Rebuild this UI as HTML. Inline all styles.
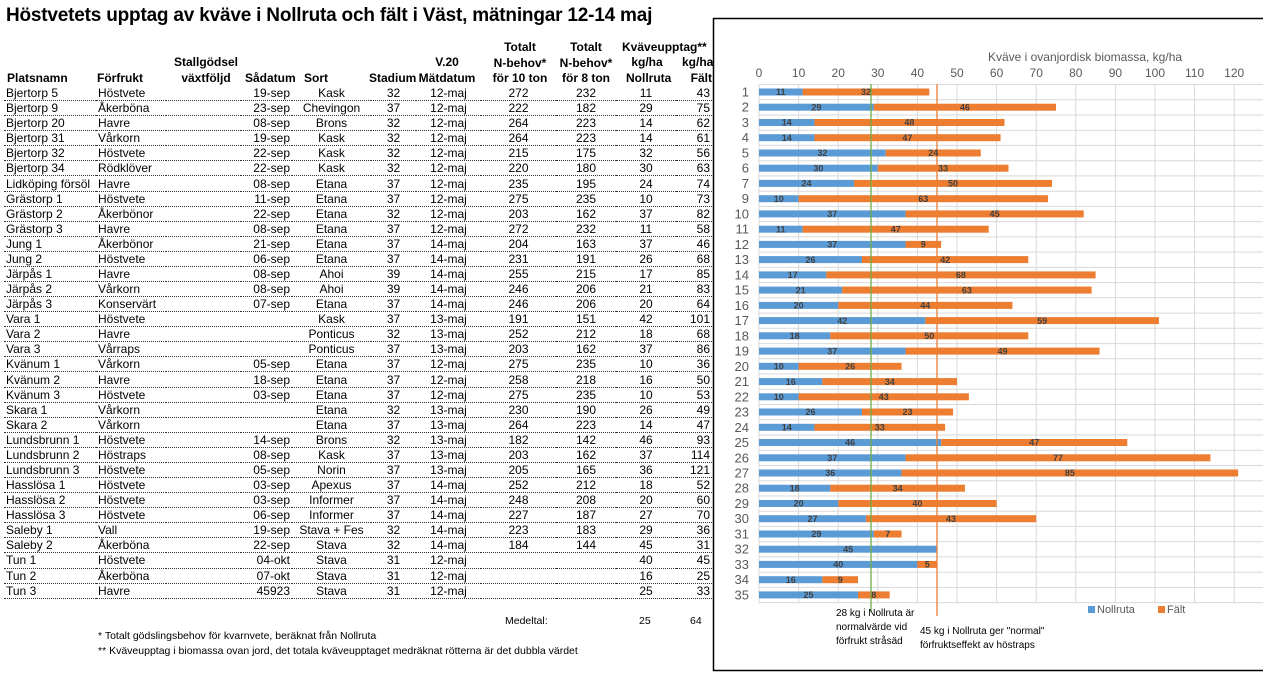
<!DOCTYPE html>
<html><head><meta charset="utf-8"><style>
body{margin:0;width:1263px;height:682px;background:#fff;position:relative;overflow:hidden;font-family:"Liberation Sans",Arial,sans-serif;}
h1{position:absolute;left:6px;top:5px;margin:0;font-size:19px;font-weight:bold;letter-spacing:-0.2px;}
.hd{position:absolute;font-size:12px;font-weight:bold;line-height:15.5px;white-space:nowrap;}
table{position:absolute;left:4px;top:85.5px;border-collapse:collapse;table-layout:fixed;font-size:12px;}
td{height:15.09px;padding:0 2px;line-height:14px;border-bottom:1px dotted #333;white-space:nowrap;overflow:hidden;box-sizing:border-box;}
td.c{text-align:center}td.r{text-align:right}
.fn{position:absolute;font-size:10.5px;white-space:nowrap;}
</style></head><body>
<h1>Höstvetets upptag av kväve i Nollruta och fält i Väst, mätningar 12-14 maj</h1>
<div class="hd" style="left:7px;top:71px">Platsnamn</div>
<div class="hd" style="left:97px;top:71px">Förfrukt</div>
<div class="hd" style="left:170px;top:55px;text-align:center;width:72px">Stallgödsel<br>växtföljd</div>
<div class="hd" style="left:245px;top:71px">Sådatum</div>
<div class="hd" style="left:304px;top:71px">Sort</div>
<div class="hd" style="left:369px;top:71px">Stadium</div>
<div class="hd" style="left:414px;top:55px;width:66px;text-align:center">V.20<br>Mätdatum</div>
<div class="hd" style="left:488px;top:40px;width:64px;text-align:center">Totalt<br>N-behov*<br>för 10 ton</div>
<div class="hd" style="left:555px;top:40px;width:62px;text-align:center">Totalt<br>N-behov*<br>för 8 ton</div>
<div class="hd" style="left:622px;top:40px">Kväveupptag**</div>
<div class="hd" style="left:626px;top:55px;text-align:center;width:42px">kg/ha<br>Nollruta</div>
<div class="hd" style="left:682px;top:55px;text-align:right;width:30px">kg/ha<br>Fält</div>
<table>
<colgroup><col style="width:92px"><col style="width:70px"><col style="width:75px"><col style="width:51px"><col style="width:79px"><col style="width:45px"><col style="width:65px"><col style="width:75px"><col style="width:60px"><col style="width:60px"><col style="width:36px"></colgroup>
<tr><td>Bjertorp 5</td><td>Höstvete</td><td></td><td class="r">19-sep</td><td class="c">Kask</td><td class="c">32</td><td class="c">12-maj</td><td class="c">272</td><td class="c">232</td><td class="c">11</td><td class="r">43</td></tr>
<tr><td>Bjertorp 9</td><td>Åkerböna</td><td></td><td class="r">23-sep</td><td class="c">Chevingon</td><td class="c">37</td><td class="c">12-maj</td><td class="c">222</td><td class="c">182</td><td class="c">29</td><td class="r">75</td></tr>
<tr><td>Bjertorp 20</td><td>Havre</td><td></td><td class="r">08-sep</td><td class="c">Brons</td><td class="c">32</td><td class="c">12-maj</td><td class="c">264</td><td class="c">223</td><td class="c">14</td><td class="r">62</td></tr>
<tr><td>Bjertorp 31</td><td>Vårkorn</td><td></td><td class="r">19-sep</td><td class="c">Kask</td><td class="c">32</td><td class="c">12-maj</td><td class="c">264</td><td class="c">223</td><td class="c">14</td><td class="r">61</td></tr>
<tr><td>Bjertorp 32</td><td>Höstvete</td><td></td><td class="r">22-sep</td><td class="c">Kask</td><td class="c">32</td><td class="c">12-maj</td><td class="c">215</td><td class="c">175</td><td class="c">32</td><td class="r">56</td></tr>
<tr><td>Bjertorp 34</td><td>Rödklöver</td><td></td><td class="r">22-sep</td><td class="c">Kask</td><td class="c">32</td><td class="c">12-maj</td><td class="c">220</td><td class="c">180</td><td class="c">30</td><td class="r">63</td></tr>
<tr><td>Lidköping försöl</td><td>Havre</td><td></td><td class="r">08-sep</td><td class="c">Etana</td><td class="c">37</td><td class="c">12-maj</td><td class="c">235</td><td class="c">195</td><td class="c">24</td><td class="r">74</td></tr>
<tr><td>Grästorp 1</td><td>Höstvete</td><td></td><td class="r">11-sep</td><td class="c">Etana</td><td class="c">37</td><td class="c">12-maj</td><td class="c">275</td><td class="c">235</td><td class="c">10</td><td class="r">73</td></tr>
<tr><td>Grästorp 2</td><td>Åkerbönor</td><td></td><td class="r">22-sep</td><td class="c">Etana</td><td class="c">32</td><td class="c">12-maj</td><td class="c">203</td><td class="c">162</td><td class="c">37</td><td class="r">82</td></tr>
<tr><td>Grästorp 3</td><td>Havre</td><td></td><td class="r">08-sep</td><td class="c">Etana</td><td class="c">37</td><td class="c">12-maj</td><td class="c">272</td><td class="c">232</td><td class="c">11</td><td class="r">58</td></tr>
<tr><td>Jung 1</td><td>Åkerbönor</td><td></td><td class="r">21-sep</td><td class="c">Etana</td><td class="c">37</td><td class="c">14-maj</td><td class="c">204</td><td class="c">163</td><td class="c">37</td><td class="r">46</td></tr>
<tr><td>Jung 2</td><td>Höstvete</td><td></td><td class="r">06-sep</td><td class="c">Etana</td><td class="c">37</td><td class="c">14-maj</td><td class="c">231</td><td class="c">191</td><td class="c">26</td><td class="r">68</td></tr>
<tr><td>Järpås 1</td><td>Havre</td><td></td><td class="r">08-sep</td><td class="c">Ahoi</td><td class="c">39</td><td class="c">14-maj</td><td class="c">255</td><td class="c">215</td><td class="c">17</td><td class="r">85</td></tr>
<tr><td>Järpås 2</td><td>Vårkorn</td><td></td><td class="r">08-sep</td><td class="c">Ahoi</td><td class="c">39</td><td class="c">14-maj</td><td class="c">246</td><td class="c">206</td><td class="c">21</td><td class="r">83</td></tr>
<tr><td>Järpås 3</td><td>Konservärt</td><td></td><td class="r">07-sep</td><td class="c">Etana</td><td class="c">37</td><td class="c">14-maj</td><td class="c">246</td><td class="c">206</td><td class="c">20</td><td class="r">64</td></tr>
<tr><td>Vara 1</td><td>Höstvete</td><td></td><td class="r"></td><td class="c">Kask</td><td class="c">37</td><td class="c">13-maj</td><td class="c">191</td><td class="c">151</td><td class="c">42</td><td class="r">101</td></tr>
<tr><td>Vara 2</td><td>Havre</td><td></td><td class="r"></td><td class="c">Ponticus</td><td class="c">32</td><td class="c">13-maj</td><td class="c">252</td><td class="c">212</td><td class="c">18</td><td class="r">68</td></tr>
<tr><td>Vara 3</td><td>Vårraps</td><td></td><td class="r"></td><td class="c">Ponticus</td><td class="c">37</td><td class="c">13-maj</td><td class="c">203</td><td class="c">162</td><td class="c">37</td><td class="r">86</td></tr>
<tr><td>Kvänum 1</td><td>Vårkorn</td><td></td><td class="r">05-sep</td><td class="c">Etana</td><td class="c">37</td><td class="c">12-maj</td><td class="c">275</td><td class="c">235</td><td class="c">10</td><td class="r">36</td></tr>
<tr><td>Kvänum 2</td><td>Havre</td><td></td><td class="r">18-sep</td><td class="c">Etana</td><td class="c">37</td><td class="c">12-maj</td><td class="c">258</td><td class="c">218</td><td class="c">16</td><td class="r">50</td></tr>
<tr><td>Kvänum 3</td><td>Höstvete</td><td></td><td class="r">03-sep</td><td class="c">Etana</td><td class="c">37</td><td class="c">12-maj</td><td class="c">275</td><td class="c">235</td><td class="c">10</td><td class="r">53</td></tr>
<tr><td>Skara 1</td><td>Vårkorn</td><td></td><td class="r"></td><td class="c">Etana</td><td class="c">32</td><td class="c">13-maj</td><td class="c">230</td><td class="c">190</td><td class="c">26</td><td class="r">49</td></tr>
<tr><td>Skara 2</td><td>Vårkorn</td><td></td><td class="r"></td><td class="c">Etana</td><td class="c">37</td><td class="c">13-maj</td><td class="c">264</td><td class="c">223</td><td class="c">14</td><td class="r">47</td></tr>
<tr><td>Lundsbrunn 1</td><td>Höstvete</td><td></td><td class="r">14-sep</td><td class="c">Brons</td><td class="c">32</td><td class="c">13-maj</td><td class="c">182</td><td class="c">142</td><td class="c">46</td><td class="r">93</td></tr>
<tr><td>Lundsbrunn 2</td><td>Höstraps</td><td></td><td class="r">08-sep</td><td class="c">Kask</td><td class="c">37</td><td class="c">13-maj</td><td class="c">203</td><td class="c">162</td><td class="c">37</td><td class="r">114</td></tr>
<tr><td>Lundsbrunn 3</td><td>Höstvete</td><td></td><td class="r">05-sep</td><td class="c">Norin</td><td class="c">37</td><td class="c">13-maj</td><td class="c">205</td><td class="c">165</td><td class="c">36</td><td class="r">121</td></tr>
<tr><td>Hasslösa 1</td><td>Höstvete</td><td></td><td class="r">03-sep</td><td class="c">Apexus</td><td class="c">37</td><td class="c">14-maj</td><td class="c">252</td><td class="c">212</td><td class="c">18</td><td class="r">52</td></tr>
<tr><td>Hasslösa 2</td><td>Höstvete</td><td></td><td class="r">03-sep</td><td class="c">Informer</td><td class="c">37</td><td class="c">14-maj</td><td class="c">248</td><td class="c">208</td><td class="c">20</td><td class="r">60</td></tr>
<tr><td>Hasslösa 3</td><td>Höstvete</td><td></td><td class="r">06-sep</td><td class="c">Informer</td><td class="c">37</td><td class="c">14-maj</td><td class="c">227</td><td class="c">187</td><td class="c">27</td><td class="r">70</td></tr>
<tr><td>Saleby 1</td><td>Vall</td><td></td><td class="r">19-sep</td><td class="c">Stava + Fes</td><td class="c">32</td><td class="c">14-maj</td><td class="c">223</td><td class="c">183</td><td class="c">29</td><td class="r">36</td></tr>
<tr><td>Saleby 2</td><td>Åkerböna</td><td></td><td class="r">22-sep</td><td class="c">Stava</td><td class="c">32</td><td class="c">14-maj</td><td class="c">184</td><td class="c">144</td><td class="c">45</td><td class="r">31</td></tr>
<tr><td>Tun 1</td><td>Höstvete</td><td></td><td class="r">04-okt</td><td class="c">Stava</td><td class="c">31</td><td class="c">12-maj</td><td class="c"></td><td class="c"></td><td class="c">40</td><td class="r">45</td></tr>
<tr><td>Tun 2</td><td>Åkerböna</td><td></td><td class="r">07-okt</td><td class="c">Stava</td><td class="c">31</td><td class="c">12-maj</td><td class="c"></td><td class="c"></td><td class="c">16</td><td class="r">25</td></tr>
<tr><td>Tun 3</td><td>Havre</td><td></td><td class="r">45923</td><td class="c">Stava</td><td class="c">31</td><td class="c">12-maj</td><td class="c"></td><td class="c"></td><td class="c">25</td><td class="r">33</td></tr>
</table>
<div class="fn" style="left:505px;top:615px">Medeltal:</div>
<div class="fn" style="left:639px;top:615px">25</div>
<div class="fn" style="left:690px;top:615px">64</div>
<div class="fn" style="left:98px;top:630px">* Totalt gödslingsbehov för kvarnvete, beräknat från Nollruta</div>
<div class="fn" style="left:98px;top:645px">** Kväveupptag i biomassa ovan jord, det totala kväveupptaget medräknat rötterna är det dubbla värdet</div>

<svg style="position:absolute;left:0;top:0" width="1263" height="682" font-family="Liberation Sans, Arial, sans-serif">
<rect x="713.5" y="18.5" width="560" height="652" fill="#fff" stroke="#000" stroke-width="1.5"/>
<g stroke="#d9d9d9" stroke-width="1">
<line x1="759" y1="84.5" x2="1263" y2="84.5"/><line x1="759" y1="99.7" x2="1263" y2="99.7"/><line x1="759" y1="115" x2="1263" y2="115"/><line x1="759" y1="130.2" x2="1263" y2="130.2"/><line x1="759" y1="145.4" x2="1263" y2="145.4"/><line x1="759" y1="160.7" x2="1263" y2="160.7"/><line x1="759" y1="175.9" x2="1263" y2="175.9"/><line x1="759" y1="191.2" x2="1263" y2="191.2"/><line x1="759" y1="206.4" x2="1263" y2="206.4"/><line x1="759" y1="221.6" x2="1263" y2="221.6"/><line x1="759" y1="236.9" x2="1263" y2="236.9"/><line x1="759" y1="252.1" x2="1263" y2="252.1"/><line x1="759" y1="267.4" x2="1263" y2="267.4"/><line x1="759" y1="282.6" x2="1263" y2="282.6"/><line x1="759" y1="297.8" x2="1263" y2="297.8"/><line x1="759" y1="313.1" x2="1263" y2="313.1"/><line x1="759" y1="328.3" x2="1263" y2="328.3"/><line x1="759" y1="343.6" x2="1263" y2="343.6"/><line x1="759" y1="358.8" x2="1263" y2="358.8"/><line x1="759" y1="374" x2="1263" y2="374"/><line x1="759" y1="389.3" x2="1263" y2="389.3"/><line x1="759" y1="404.5" x2="1263" y2="404.5"/><line x1="759" y1="419.8" x2="1263" y2="419.8"/><line x1="759" y1="435" x2="1263" y2="435"/><line x1="759" y1="450.2" x2="1263" y2="450.2"/><line x1="759" y1="465.5" x2="1263" y2="465.5"/><line x1="759" y1="480.7" x2="1263" y2="480.7"/><line x1="759" y1="496" x2="1263" y2="496"/><line x1="759" y1="511.2" x2="1263" y2="511.2"/><line x1="759" y1="526.4" x2="1263" y2="526.4"/><line x1="759" y1="541.7" x2="1263" y2="541.7"/><line x1="759" y1="556.9" x2="1263" y2="556.9"/><line x1="759" y1="572.2" x2="1263" y2="572.2"/><line x1="759" y1="587.4" x2="1263" y2="587.4"/><line x1="759" y1="602.6" x2="1263" y2="602.6"/>
<line x1="759" y1="84" x2="759" y2="603"/><line x1="798.6" y1="84" x2="798.6" y2="603"/><line x1="838.2" y1="84" x2="838.2" y2="603"/><line x1="877.8" y1="84" x2="877.8" y2="603"/><line x1="917.4" y1="84" x2="917.4" y2="603"/><line x1="957" y1="84" x2="957" y2="603"/><line x1="996.6" y1="84" x2="996.6" y2="603"/><line x1="1036.2" y1="84" x2="1036.2" y2="603"/><line x1="1075.8" y1="84" x2="1075.8" y2="603"/><line x1="1115.4" y1="84" x2="1115.4" y2="603"/><line x1="1155" y1="84" x2="1155" y2="603"/><line x1="1194.6" y1="84" x2="1194.6" y2="603"/><line x1="1234.2" y1="84" x2="1234.2" y2="603"/>
</g>
<text x="1085" y="61" font-size="12" fill="#595959" text-anchor="middle">Kväve i ovanjordisk biomassa, kg/ha</text>
<g font-size="12" fill="#595959" text-anchor="middle">
<text x="759" y="77">0</text><text x="798.6" y="77">10</text><text x="838.2" y="77">20</text><text x="877.8" y="77">30</text><text x="917.4" y="77">40</text><text x="957" y="77">50</text><text x="996.6" y="77">60</text><text x="1036.2" y="77">70</text><text x="1075.8" y="77">80</text><text x="1115.4" y="77">90</text><text x="1155" y="77">100</text><text x="1194.6" y="77">110</text><text x="1234.2" y="77">120</text>
</g>
<g font-size="13" fill="#595959" text-anchor="end">
<text x="749" y="96.5">1</text><text x="749" y="111.7">2</text><text x="749" y="127">3</text><text x="749" y="142.2">4</text><text x="749" y="157.5">5</text><text x="749" y="172.7">6</text><text x="749" y="187.9">7</text><text x="749" y="203.2">9</text><text x="749" y="218.4">10</text><text x="749" y="233.7">11</text><text x="749" y="248.9">12</text><text x="749" y="264.1">13</text><text x="749" y="279.4">14</text><text x="749" y="294.6">15</text><text x="749" y="309.9">16</text><text x="749" y="325.1">17</text><text x="749" y="340.3">18</text><text x="749" y="355.6">19</text><text x="749" y="370.8">20</text><text x="749" y="386.1">21</text><text x="749" y="401.3">22</text><text x="749" y="416.5">23</text><text x="749" y="431.8">24</text><text x="749" y="447">25</text><text x="749" y="462.3">26</text><text x="749" y="477.5">27</text><text x="749" y="492.7">28</text><text x="749" y="508">29</text><text x="749" y="523.2">30</text><text x="749" y="538.5">31</text><text x="749" y="553.7">32</text><text x="749" y="568.9">33</text><text x="749" y="584.2">34</text><text x="749" y="599.4">35</text>
</g>
<g transform="translate(759,0) scale(3.96,1)">
<g fill="#5b9bd5">
<rect x="0" y="88.5" width="11" height="7"/><rect x="0" y="103.7" width="29" height="7"/><rect x="0" y="119" width="14" height="7"/><rect x="0" y="134.2" width="14" height="7"/><rect x="0" y="149.5" width="32" height="7"/><rect x="0" y="164.7" width="30" height="7"/><rect x="0" y="179.9" width="24" height="7"/><rect x="0" y="195.2" width="10" height="7"/><rect x="0" y="210.4" width="37" height="7"/><rect x="0" y="225.7" width="11" height="7"/><rect x="0" y="240.9" width="37" height="7"/><rect x="0" y="256.1" width="26" height="7"/><rect x="0" y="271.4" width="17" height="7"/><rect x="0" y="286.6" width="21" height="7"/><rect x="0" y="301.9" width="20" height="7"/><rect x="0" y="317.1" width="42" height="7"/><rect x="0" y="332.3" width="18" height="7"/><rect x="0" y="347.6" width="37" height="7"/><rect x="0" y="362.8" width="10" height="7"/><rect x="0" y="378.1" width="16" height="7"/><rect x="0" y="393.3" width="10" height="7"/><rect x="0" y="408.5" width="26" height="7"/><rect x="0" y="423.8" width="14" height="7"/><rect x="0" y="439" width="46" height="7"/><rect x="0" y="454.3" width="37" height="7"/><rect x="0" y="469.5" width="36" height="7"/><rect x="0" y="484.7" width="18" height="7"/><rect x="0" y="500" width="20" height="7"/><rect x="0" y="515.2" width="27" height="7"/><rect x="0" y="530.5" width="29" height="7"/><rect x="0" y="545.7" width="45" height="7"/><rect x="0" y="560.9" width="40" height="7"/><rect x="0" y="576.2" width="16" height="7"/><rect x="0" y="591.4" width="25" height="7"/>
</g>
<g fill="#ed7d31">
<rect x="11" y="88.5" width="32" height="7"/><rect x="29" y="103.7" width="46" height="7"/><rect x="14" y="119" width="48" height="7"/><rect x="14" y="134.2" width="47" height="7"/><rect x="32" y="149.5" width="24" height="7"/><rect x="30" y="164.7" width="33" height="7"/><rect x="24" y="179.9" width="50" height="7"/><rect x="10" y="195.2" width="63" height="7"/><rect x="37" y="210.4" width="45" height="7"/><rect x="11" y="225.7" width="47" height="7"/><rect x="37" y="240.9" width="9" height="7"/><rect x="26" y="256.1" width="42" height="7"/><rect x="17" y="271.4" width="68" height="7"/><rect x="21" y="286.6" width="63" height="7"/><rect x="20" y="301.9" width="44" height="7"/><rect x="42" y="317.1" width="59" height="7"/><rect x="18" y="332.3" width="50" height="7"/><rect x="37" y="347.6" width="49" height="7"/><rect x="10" y="362.8" width="26" height="7"/><rect x="16" y="378.1" width="34" height="7"/><rect x="10" y="393.3" width="43" height="7"/><rect x="26" y="408.5" width="23" height="7"/><rect x="14" y="423.8" width="33" height="7"/><rect x="46" y="439" width="47" height="7"/><rect x="37" y="454.3" width="77" height="7"/><rect x="36" y="469.5" width="85" height="7"/><rect x="18" y="484.7" width="34" height="7"/><rect x="20" y="500" width="40" height="7"/><rect x="27" y="515.2" width="43" height="7"/><rect x="29" y="530.5" width="7" height="7"/><rect x="40" y="560.9" width="5" height="7"/><rect x="16" y="576.2" width="9" height="7"/><rect x="25" y="591.4" width="8" height="7"/>
</g>
</g>
<line x1="871" y1="84" x2="871" y2="612" stroke="#70ad47" stroke-width="1.3"/>
<line x1="937" y1="84" x2="937" y2="616" stroke="#ed7d31" stroke-width="1.3"/>
<g font-size="9" font-weight="bold" fill="#404040" text-anchor="middle">
<text x="780.8" y="95.2">11</text><text x="866" y="95.2">32</text>
<text x="816.4" y="110.4">29</text><text x="964.9" y="110.4">46</text>
<text x="786.7" y="125.7">14</text><text x="909.4" y="125.7">48</text>
<text x="786.7" y="140.9">14</text><text x="907.4" y="140.9">47</text>
<text x="822.4" y="156.2">32</text><text x="933.2" y="156.2">24</text>
<text x="818.4" y="171.4">30</text><text x="943.1" y="171.4">33</text>
<text x="806.5" y="186.6">24</text><text x="953" y="186.6">50</text>
<text x="778.8" y="201.9">10</text><text x="923.3" y="201.9">63</text>
<text x="832.3" y="217.1">37</text><text x="994.6" y="217.1">45</text>
<text x="780.8" y="232.4">11</text><text x="895.7" y="232.4">47</text>
<text x="832.3" y="247.6">37</text><text x="923.3" y="247.6">9</text>
<text x="810.5" y="262.8">26</text><text x="945.2" y="262.8">42</text>
<text x="792.7" y="278.1">17</text><text x="960.9" y="278.1">68</text>
<text x="800.6" y="293.3">21</text><text x="966.9" y="293.3">63</text>
<text x="798.6" y="308.6">20</text><text x="925.3" y="308.6">44</text>
<text x="842.2" y="323.8">42</text><text x="1042.1" y="323.8">59</text>
<text x="794.6" y="339">18</text><text x="929.3" y="339">50</text>
<text x="832.3" y="354.3">37</text><text x="1002.5" y="354.3">49</text>
<text x="778.8" y="369.5">10</text><text x="850.1" y="369.5">26</text>
<text x="790.7" y="384.8">16</text><text x="889.7" y="384.8">34</text>
<text x="778.8" y="400">10</text><text x="883.7" y="400">43</text>
<text x="810.5" y="415.2">26</text><text x="907.5" y="415.2">23</text>
<text x="786.7" y="430.5">14</text><text x="879.7" y="430.5">33</text>
<text x="850.1" y="445.7">46</text><text x="1034.3" y="445.7">47</text>
<text x="832.3" y="461">37</text><text x="1058" y="461">77</text>
<text x="830.3" y="476.2">36</text><text x="1069.9" y="476.2">85</text>
<text x="794.6" y="491.4">18</text><text x="897.6" y="491.4">34</text>
<text x="798.6" y="506.7">20</text><text x="917.4" y="506.7">40</text>
<text x="812.5" y="521.9">27</text><text x="951" y="521.9">43</text>
<text x="816.4" y="537.2">29</text><text x="887.7" y="537.2">7</text>
<text x="848.1" y="552.4">45</text>
<text x="838.2" y="567.6">40</text><text x="927.3" y="567.6">5</text>
<text x="790.7" y="582.9">16</text><text x="840.2" y="582.9">9</text>
<text x="808.5" y="598.1">25</text><text x="873.8" y="598.1">8</text>
</g>
<rect x="1088" y="606" width="7" height="7" fill="#5b9bd5"/>
<text x="1097" y="613" font-size="11" fill="#595959">Nollruta</text>
<rect x="1158" y="606" width="7" height="7" fill="#ed7d31"/>
<text x="1167" y="613" font-size="11" fill="#595959">Fält</text>
<g font-size="10" fill="#000">
<text x="836" y="616">28 kg i Nollruta är</text>
<text x="836" y="630">normalvärde vid</text>
<text x="836" y="644">förfrukt stråsäd</text>
<text x="920" y="634">45 kg i Nollruta ger "normal"</text>
<text x="920" y="648">förfruktseffekt av höstraps</text>
</g>
</svg>
</body></html>
